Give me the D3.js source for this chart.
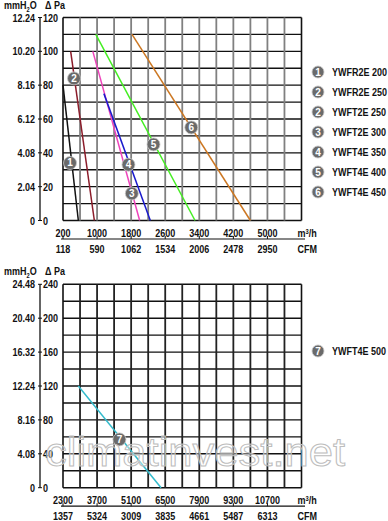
<!DOCTYPE html>
<html>
<head>
<meta charset="utf-8">
<script src="https://cdn.jsdelivr.net/npm/d3@7"></script>
<style>
  body { margin: 0; background: #fff; }
  svg text { font-family: "Liberation Sans", Arial, sans-serif; font-weight: bold; font-size: 11px; fill: #111; }
</style>
</head>
<body>
<svg id="chart" width="388" height="521"></svg>
<script>
// top chart data
var flowTicksA = [200, 1000, 1800, 2600, 3400, 4200, 5000];
var cfmLabelsA = ["118", "590", "1062", "1534", "2006", "2478", "2950"];
var paTicksA = [0, 20, 40, 60, 80, 100, 120];
var mmLabelsA = ["0", "2.04", "4.08", "6.12", "8.16", "10.20", "12.24"];

var curvesA = [
    {id: "1", name: "YWFR2E 200", pts: [[200, 80], [560, 0]], mark: [365, 34]},
    {id: "2", name: "YWFR2E 250", pts: [[380, 100], [936, 0]], mark: [459, 84]},
    {id: "2", name: "YWFT2E 250", pts: null, mark: null},
    {id: "3", name: "YWFT2E 300", pts: [[900, 100], [2000, 0]], mark: [1816, 16]},
    {id: "4", name: "YWFT4E 350", pts: [[1160, 75], [2250, 0]], mark: [1737, 33]},
    {id: "5", name: "YWFT4E 400", pts: [[970, 110], [3300, 0]], mark: [2325, 45]},
    {id: "6", name: "YWFT4E 450", pts: [[1820, 110], [4600, 0]], mark: [3212, 55]}
];
var colorsA = ["#111111", "#8b1c2a", "#8b1c2a", "#ee44bb", "#1a1acc", "#44ee22", "#cc7722"];

// bottom chart data
var flowTicksB = [2300, 3700, 5100, 6500, 7900, 9300, 10700];
var cfmLabelsB = ["1357", "5324", "3009", "3835", "4661", "5487", "6313"];
var paTicksB = [0, 40, 80, 120, 160, 200, 240];
var mmLabelsB = ["0", "4.08", "8.16", "12.24", "16.32", "20.40", "24.48"];

var curvesB = [
    {id: "7", name: "YWFT4E 500", pts: [[2930, 120], [6330, 0]], mark: [4618, 57]}
];
var colorsB = ["#33bbcc"];

var svg = d3.select("#chart");
var narrow = 0.82;

// narrow bold text, like the original's Arial Narrow
function txt(g, x, y, s, anchor) {
    return g.append("text")
        .attr("transform", `translate(${x},${y}) scale(${narrow},1)`)
        .style("text-anchor", anchor || "start")
        .text(s);
}

function chart(opt) {
    var x = d3.scaleLinear().domain(opt.xdom).range([63, 301.5]);
    var y = d3.scaleLinear().domain(opt.ydom).range([opt.bottom, opt.top]);
    var g = svg.append("g");

    // grid
    var nCols = 14, nRows = 12;
    var xStep = (opt.xdom[1] - opt.xdom[0]) / nCols;
    var yStep = (opt.ydom[1] - opt.ydom[0]) / nRows;
    g.selectAll(".h").data(d3.range(nRows + 1)).enter().append("line")
        .attr("x1", x(opt.xdom[0])).attr("x2", x(opt.xdom[1]))
        .attr("y1", d => y(d * yStep)).attr("y2", d => y(d * yStep))
        .style("stroke", "#111").style("stroke-width", 1.4);
    g.selectAll(".v").data(d3.range(nCols + 1)).enter().append("line")
        .attr("x1", d => x(opt.xdom[0] + d * xStep)).attr("x2", d => x(opt.xdom[0] + d * xStep))
        .attr("y1", y(opt.ydom[0])).attr("y2", y(opt.ydom[1]))
        .style("stroke", d => (d == 0 || d == nCols) ? "#111" : opt.vcol)
        .style("stroke-width", d => (d == 0 || d == nCols) ? 1.6 : 1.8);

    // left axis
    g.append("line").attr("x1", 40).attr("x2", 40).attr("y1", y(opt.ydom[1])).attr("y2", y(0))
        .style("stroke", "#111").style("stroke-width", 1.3);
    g.selectAll(".yt").data(opt.paTicks).enter().append("line")
        .attr("x1", 38).attr("x2", 42).attr("y1", d => y(d)).attr("y2", d => y(d))
        .style("stroke", "#111");
    opt.paTicks.forEach(function(d, i) {
        txt(g, 43, y(d) + 4, d);
        txt(g, 35, y(d) + 4, opt.mmLabels[i], "end");
    });
    var head = txt(g, 4, opt.top - 9, "");
    head.append("tspan").text("mmH");
    head.append("tspan").attr("dy", 3).style("font-size", "7px").text("2");
    head.append("tspan").attr("dy", -3).text("O");
    txt(g, 45, opt.top - 9, "\u0394 Pa");

    // bottom axis
    var axY = opt.bottom + 18.5;
    g.append("line").attr("x1", 61).attr("x2", 305).attr("y1", axY).attr("y2", axY)
        .style("stroke", "#111").style("stroke-width", 1.2);
    g.selectAll(".xt").data(opt.flowTicks).enter().append("line")
        .attr("x1", d => x(d)).attr("x2", d => x(d)).attr("y1", axY - 3).attr("y2", axY)
        .style("stroke", "#111");
    opt.flowTicks.forEach(function(d, i) {
        txt(g, x(d), axY - 2.5, d, "middle");
        txt(g, x(d), axY + 13.5, opt.cfmLabels[i], "middle");
    });
    var unit = txt(g, x(opt.xdom[1]) - 4, axY - 2.5, "");
    unit.append("tspan").text("m");
    unit.append("tspan").attr("dy", -3).style("font-size", "7px").text("3");
    unit.append("tspan").attr("dy", 3).text("/h");
    txt(g, x(opt.xdom[1]) - 4, axY + 13.5, "CFM");

    return {x: x, y: y, g: g};
}

function badge(g, cx, cy, label, r) {
    g.append("circle").attr("cx", cx).attr("cy", cy).attr("r", r)
        .style("fill", "#6a6a6a").style("stroke", "#c8c8c8").style("stroke-width", 0.8);
    g.append("text").attr("x", cx).attr("y", cy + 3.5)
        .style("text-anchor", "middle").style("fill", "#fff").style("font-size", "10px")
        .text(label);
}

function curves(c, list, colors, legendY0) {
    var line = d3.line().x(d => c.x(d[0])).y(d => c.y(d[1]));
    list.forEach(function(s, i) {
        if (s.pts) {
            c.g.append("path").attr("d", line(s.pts))
                .style("fill", "none").style("stroke", colors[i]).style("stroke-width", 1.5);
        }
    });
    list.forEach(function(s) {
        if (s.mark) badge(c.g, c.x(s.mark[0]), c.y(s.mark[1]), s.id, 6.5);
    });
    list.forEach(function(s, i) {
        var ly = legendY0 + i * 20;
        badge(c.g, 318, ly, s.id, 6);
        txt(c.g, 332, ly + 4, s.name);
    });
}

var cA = chart({xdom: [200, 5800], ydom: [0, 120], top: 17.5, bottom: 220.5,
    flowTicks: flowTicksA, cfmLabels: cfmLabelsA, paTicks: paTicksA, mmLabels: mmLabelsA, vcol: "#808080"});
curves(cA, curvesA, colorsA, 72);

var cB = chart({xdom: [2300, 12100], ydom: [0, 240], top: 284.3, bottom: 487.7,
    flowTicks: flowTicksB, cfmLabels: cfmLabelsB, paTicks: paTicksB, mmLabels: mmLabelsB, vcol: "#222"});
curves(cB, curvesB, colorsB, 351);

// watermark
svg.append("text").attr("x", 45).attr("y", 466)
    .attr("textLength", 300).attr("lengthAdjust", "spacingAndGlyphs")
    .style("font-family", "Liberation Sans, Arial, sans-serif").style("font-weight", "normal")
    .style("font-size", "40px").style("fill", "#fff").style("fill-opacity", 0.4)
    .style("stroke", "#bdbdbd").style("stroke-width", 1)
    .text("climatinvest.net");
</script>
</body>
</html>
